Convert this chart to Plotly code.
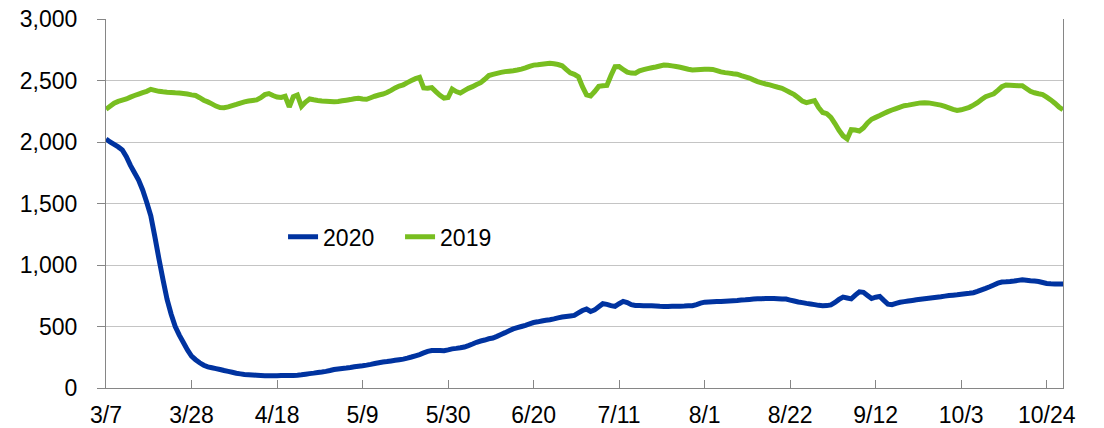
import pandas as pd
import plotly.graph_objects as go

start_date = "2020-03-07"
n_days = 236

vals_2020 = [
    2025, 2000, 1980, 1960, 1935, 1880, 1810, 1750, 1690, 1610,
    1510, 1400, 1230, 1050, 880, 720, 600, 500, 430, 370,
    310, 260, 230, 205, 185, 172, 165, 158, 150, 142,
    135, 128, 120, 115, 110, 108, 106, 104, 102, 100,
    100, 99, 100, 101, 101, 101, 102, 104, 107, 112,
    117, 121, 126, 130, 135, 142, 150, 155, 159, 162,
    166, 172, 177, 181, 186, 192, 199, 205, 211, 215,
    220, 225, 230, 235, 243, 252, 262, 272, 285, 298,
    305, 305, 304, 303, 310, 318, 322, 327, 333, 345,
    358, 372, 382, 390, 400, 406, 420, 435, 450, 466,
    480, 490, 500, 510, 522, 532, 538, 545, 551, 555,
    562, 570, 577, 582, 586, 590, 610, 630, 642, 622,
    635, 660, 685, 680, 670, 663, 685, 704, 695, 678,
    671, 670, 669, 669, 668, 666, 664, 663, 663, 664,
    665, 665, 666, 668, 669, 678, 690, 698, 700, 702,
    703, 704, 706, 708, 710, 712, 715, 717, 720, 723,
    725, 726, 728, 728, 727, 726, 724, 723, 715, 707,
    699, 694, 688, 683, 678, 672, 669, 670, 676, 695,
    720, 739, 732, 725, 755, 782, 778, 752, 727, 738,
    744, 712, 682, 677, 688, 697, 702, 707, 712, 717,
    722, 726, 730, 734, 738, 742, 747, 752, 755, 758,
    762, 766, 770, 775, 785, 798, 810, 823, 838, 852,
    861, 863, 866, 870, 875, 880, 876, 872, 869, 866,
    858, 850, 847, 846, 845, 845,
]

vals_2019 = [
    2266, 2290, 2315, 2330, 2340, 2350, 2365, 2378, 2390, 2402,
    2412, 2428, 2420, 2412, 2408, 2405, 2403, 2400, 2398, 2395,
    2390, 2383, 2378, 2360, 2340, 2326, 2310, 2292, 2280, 2278,
    2285, 2295, 2305, 2316, 2326, 2333, 2338, 2342, 2360, 2385,
    2394, 2378, 2366, 2362, 2372, 2285, 2368, 2382, 2290, 2325,
    2350, 2343, 2338, 2334, 2332, 2330, 2328, 2330, 2335, 2340,
    2345, 2352, 2356, 2350, 2347, 2360, 2372, 2382, 2390, 2402,
    2420, 2440, 2455, 2465, 2483, 2500, 2515, 2525, 2440, 2438,
    2442, 2410, 2380, 2357, 2362, 2430, 2410, 2398, 2418, 2436,
    2450, 2468, 2482, 2510, 2540, 2550, 2558, 2566, 2572, 2576,
    2580, 2585, 2592, 2602, 2615, 2625, 2628, 2632, 2636, 2640,
    2636, 2630, 2620, 2590, 2562, 2550, 2530, 2450, 2384, 2375,
    2410, 2452, 2458, 2460, 2540, 2612, 2613, 2590, 2568, 2560,
    2559, 2578, 2588, 2596, 2604, 2610, 2618, 2625, 2624, 2619,
    2614, 2608, 2600, 2592, 2586, 2588, 2590, 2591, 2591, 2590,
    2580, 2570, 2564, 2560, 2555, 2551, 2540, 2530, 2520, 2505,
    2491, 2480, 2472, 2465, 2455, 2445, 2437, 2420, 2402, 2385,
    2360, 2332, 2320, 2328, 2336, 2280, 2240, 2230, 2200, 2150,
    2095, 2050, 2025, 2100, 2098, 2090, 2115, 2155, 2185, 2200,
    2215, 2232, 2247, 2260, 2272, 2284, 2295, 2300, 2306, 2312,
    2318, 2320, 2318, 2312, 2306, 2300, 2290, 2278, 2266, 2256,
    2262, 2272, 2282, 2300, 2320, 2345, 2368, 2380, 2392, 2420,
    2450, 2464, 2462, 2460, 2458, 2458, 2435, 2412, 2400, 2392,
    2385, 2365, 2342, 2315, 2285, 2262,
]

tick_dates = ["2020-03-07", "2020-03-28", "2020-04-18", "2020-05-09", "2020-05-30",
              "2020-06-20", "2020-07-11", "2020-08-01", "2020-08-22", "2020-09-12",
              "2020-10-03", "2020-10-24"]
tick_labels = ["3/7", "3/28", "4/18", "5/9", "5/30", "6/20", "7/11", "8/1",
               "8/22", "9/12", "10/3", "10/24"]

dates = pd.date_range(start_date, periods=n_days, freq="D")

FONT = "Liberation Sans, Arial, sans-serif"
FSIZE = 23
AXIS_COL = "#868686"
GRID_COL = "#c4c4c4"

fig = go.Figure()
fig.add_trace(go.Scatter(x=dates, y=vals_2020, name="2020", mode="lines",
                         line=dict(color="#0033a0", width=5, simplify=False)))
fig.add_trace(go.Scatter(x=dates, y=vals_2019, name="2019", mode="lines",
                         line=dict(color="#78be20", width=5, simplify=False)))

fig.update_layout(
    width=1104, height=428,
    margin=dict(l=106, r=41, t=19, b=40, pad=0, autoexpand=False),
    paper_bgcolor="white", plot_bgcolor="white",
    font=dict(family=FONT, size=FSIZE, color="#000000"),
    showlegend=True,
    legend=dict(orientation="h", x=0.185, y=0.41, xanchor="left", yanchor="middle",
                font=dict(family=FONT, size=FSIZE, color="#000000"),
                bgcolor="rgba(0,0,0,0)", entrywidth=72, entrywidthmode="pixels"),
    xaxis=dict(type="date", range=[dates[0], dates[-1]], automargin=False,
               tickvals=tick_dates, ticktext=tick_labels,
               ticks="inside", ticklen=8, tickcolor=AXIS_COL, tickwidth=1,
               showline=True, linecolor=AXIS_COL, linewidth=1, mirror=False,
               showgrid=False, zeroline=False,
               tickfont=dict(family=FONT, size=FSIZE, color="#000000"),
               ticklabelstandoff=6),
    xaxis2=dict(type="date", overlaying="x", matches="x", anchor="y", automargin=False,
                range=[dates[0], dates[-1]],
                tickvals=tick_dates, ticks="outside", ticklen=6, tickcolor=AXIS_COL,
                showticklabels=False, showline=False, showgrid=False, zeroline=False),
    yaxis=dict(range=[0, 3000], dtick=500, tickformat=",", automargin=False,
               ticks="outside", ticklen=8, tickcolor=AXIS_COL, tickwidth=1,
               showline=True, linecolor=AXIS_COL, linewidth=1, mirror=True,
               showgrid=True, gridcolor=GRID_COL, gridwidth=1, zeroline=False,
               tickfont=dict(family=FONT, size=FSIZE, color="#000000"),
               ticklabelstandoff=15),
)

fig.write_html("out.html")
